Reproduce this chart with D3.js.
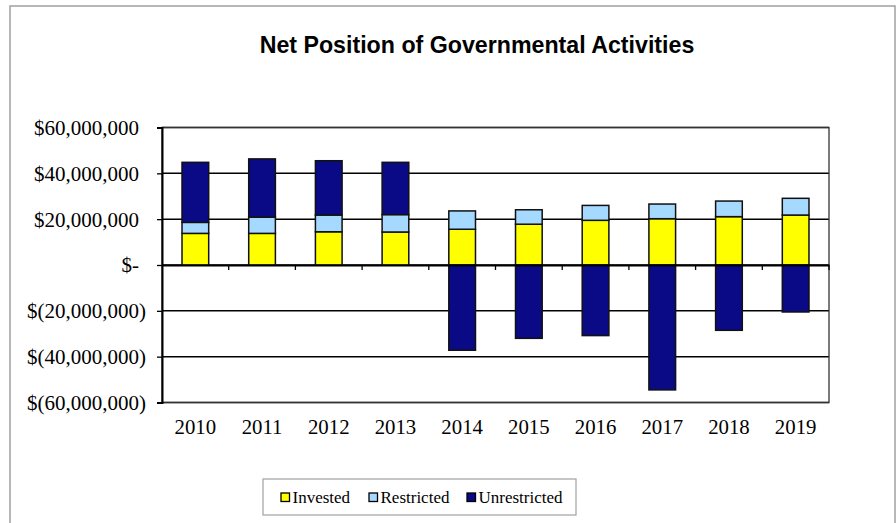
<!DOCTYPE html>
<html><head><meta charset="utf-8">
<script src="https://cdn.jsdelivr.net/npm/d3@7"></script>
<style>html,body{margin:0;padding:0;background:#fff;}svg{display:block;}</style>
</head><body>
<svg id="c" width="896" height="523"></svg>
<script>
const years = ["2010","2011","2012","2013","2014","2015","2016","2017","2018","2019"];
const invested = [13.8e6,13.8e6,14.5e6,14.4e6,15.6e6,17.8e6,19.5e6,20.2e6,21.1e6,21.8e6];
const restricted = [4.8e6,7.1e6,7.3e6,7.6e6,8.0e6,6.3e6,6.5e6,6.4e6,6.8e6,7.3e6];
const unrestricted = [26.2e6,25.4e6,23.7e6,22.8e6,-37.2e6,-32.0e6,-30.8e6,-54.5e6,-28.5e6,-20.5e6];
const yTicks = [60e6,40e6,20e6,0,-20e6,-40e6,-60e6];
const seriesNames = ["Invested","Restricted","Unrestricted"];
const colors = ["#FFFF00","#A6D9FF","#0A0A86"];
const title = "Net Position of Governmental Activities";

const svg = d3.select("#c");
svg.append("rect").attr("x",10).attr("y",6).attr("width",885).attr("height",530)
  .attr("fill","#fff").attr("stroke","#a0a0a0").attr("stroke-width",1.5);

const L=162,R=829,T=127.5,B=402.5;
const x = d3.scaleBand().domain(years).range([L,R]).paddingInner(0.6).paddingOuter(0.3);
const xb = d3.scaleBand().domain(years).range([L,R]);
const y = d3.scaleLinear().domain([-60e6,60e6]).range([B,T]);

svg.append("text").attr("x",477).attr("y",53).attr("text-anchor","middle")
  .attr("font-family","Liberation Sans, Arial, sans-serif").attr("font-weight","bold")
  .attr("font-size",23.2).text(title);

// gridlines
svg.append("g").selectAll("line").data(yTicks).join("line")
  .attr("x1",L).attr("x2",R).attr("y1",d=>y(d)).attr("y2",d=>y(d))
  .attr("stroke","#000").attr("stroke-width",1.5);
// plot border
svg.append("rect").attr("x",L).attr("y",T).attr("width",R-L).attr("height",B-T)
  .attr("fill","none").attr("stroke","#333").attr("stroke-width",1.3);

const data = years.map((yr,i)=>({year:yr,Invested:invested[i],Restricted:restricted[i],Unrestricted:unrestricted[i]}));
const stack = d3.stack().keys(seriesNames).offset(d3.stackOffsetDiverging)(data);
stack.forEach((s,si)=>{
  svg.append("g").selectAll("rect").data(s).join("rect")
    .attr("x",d=>x(d.data.year)).attr("width",x.bandwidth())
    .attr("y",d=>y(Math.max(d[0],d[1]))).attr("height",d=>Math.abs(y(d[0])-y(d[1])))
    .attr("fill",colors[si]).attr("stroke","#111").attr("stroke-width",1.5);
});

// y axis
const fmt = v => v===0 ? "$-" : (v<0 ? "$(" + d3.format(",")(-v) + ")" : "$" + d3.format(",")(v));
const yAxis = d3.axisLeft(y).tickValues(yTicks).tickSize(5).tickFormat("");
const ya = svg.append("g").attr("transform",`translate(${L},0)`).call(yAxis);
ya.select(".domain").attr("stroke","#000").attr("stroke-width",2);
ya.selectAll(".tick line").attr("stroke","#000").attr("stroke-width",1.3);
const yl = svg.append("g").selectAll("text").data(yTicks).join("text")
  .attr("x",146).attr("y",d=>y(d)).attr("dy","0.35em").attr("text-anchor","end")
  .attr("font-family","Liberation Serif, Times New Roman, serif").attr("font-weight","normal")
  .attr("font-size",21).attr("fill","#000");
yl.append("tspan").text(d=>fmt(d));
yl.filter(d=>d>=0).append("tspan").attr("fill-opacity",0).text(")");

// x axis at zero
const xAxis = d3.axisBottom(xb).tickSize(0).tickFormat("");
const xa = svg.append("g").attr("transform",`translate(0,${y(0)})`).call(xAxis);
xa.select(".domain").attr("stroke","#000").attr("stroke-width",2);
svg.append("g").selectAll("line").data(years.slice(1).concat(["end"])).join("line")
  .attr("x1",d=>d==="end"?R:xb(d)).attr("x2",d=>d==="end"?R:xb(d))
  .attr("y1",y(0)).attr("y2",y(0)+5).attr("stroke","#000").attr("stroke-width",1.3);
svg.append("g").selectAll("text").data(years).join("text")
  .attr("x",d=>xb(d)+xb.bandwidth()/2).attr("y",434).attr("text-anchor","middle")
  .attr("font-family","Liberation Serif, Times New Roman, serif").attr("font-size",20.8).text(d=>d);

// legend
const lg = svg.append("g");
lg.append("rect").attr("x",263).attr("y",479).attr("width",313).attr("height",36)
  .attr("fill","#fff").attr("stroke","#a0a0a0").attr("stroke-width",1.2);
const lx = [281,369,467];
seriesNames.forEach((n,i)=>{
  lg.append("rect").attr("x",lx[i]).attr("y",493).attr("width",8.5).attr("height",8.5)
    .attr("fill",colors[i]).attr("stroke","#000").attr("stroke-width",1.3);
  lg.append("text").attr("x",lx[i]+11.5).attr("y",503).attr("font-family","Liberation Serif, Times New Roman, serif")
    .attr("font-size",17).text(n);
});
</script>
</body></html>
